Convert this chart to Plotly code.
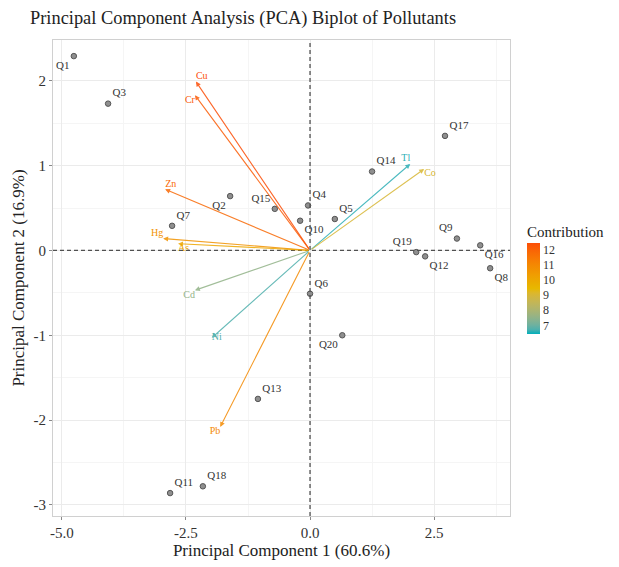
import numpy as np
import plotly.graph_objects as go

# ---------------- data ----------------
obs_names = ["Q1", "Q2", "Q3", "Q4", "Q5", "Q6", "Q7", "Q8", "Q9", "Q10",
             "Q11", "Q12", "Q13", "Q14", "Q15", "Q16", "Q17", "Q18", "Q19", "Q20"]
obs_pc1 = [-4.76, -1.61, -4.07, -0.04, 0.50, 0.00, -2.78, 3.63, 2.96, -0.20,
           -2.82, 2.32, -1.05, 1.25, -0.71, 3.43, 2.72, -2.16, 2.14, 0.65]
obs_pc2 = [2.29, 0.64, 1.73, 0.53, 0.37, -0.51, 0.29, -0.21, 0.14, 0.35,
           -2.86, -0.07, -1.75, 0.93, 0.49, 0.06, 1.35, -2.78, -0.02, -1.00]
obs_textpos = ["bottom left", "bottom left", "top right", "top right", "top right",
               "top right", "top right", "bottom right", "top left", "bottom right",
               "top right", "bottom right", "top right", "top right", "top left",
               "bottom right", "top right", "top right", "top left", "bottom left"]

var_names = ["Cu", "Cr", "Zn", "Hg", "As", "Cd", "Ni", "Pb", "Tl", "Co"]
var_pc1 = [-2.30, -2.32, -2.92, -2.96, -2.66, -2.32, -1.98, -1.81, 2.02, 2.30]
var_pc2 = [1.99, 1.83, 0.72, 0.14, 0.08, -0.47, -1.03, -2.08, 1.02, 0.96]
var_contrib = [12.4, 12.1, 11.8, 10.6, 10.0, 7.5, 6.7, 10.9, 6.5, 9.0]
var_textpos = ["top right", "bottom left", "top right", "top left", "bottom right",
               "bottom left", "middle right", "bottom left", "top left", "bottom right"]

cbar_ticks = [7, 8, 9, 10, 11, 12]
grad_cols = ["#00AFBB", "#E7B800", "#FC4E07"]
c_min, c_max = 6.4, 12.4

# ---------------- colour helpers (Lab interpolation like ggplot) ----------------
def hex2rgb(h):
    h = h.lstrip("#")
    return np.array([int(h[i:i + 2], 16) for i in (0, 2, 4)]) / 255.0

def rgb2lab(c):
    c = np.where(c > 0.04045, ((c + 0.055) / 1.055) ** 2.4, c / 12.92)
    M = np.array([[0.4124, 0.3576, 0.1805], [0.2126, 0.7152, 0.0722], [0.0193, 0.1192, 0.9505]])
    xyz = M @ c / np.array([0.95047, 1.0, 1.08883])
    f = np.where(xyz > 0.008856, np.cbrt(xyz), 7.787 * xyz + 16 / 116)
    return np.array([116 * f[1] - 16, 500 * (f[0] - f[1]), 200 * (f[1] - f[2])])

def lab2rgb(lab):
    fy = (lab[0] + 16) / 116
    fx = fy + lab[1] / 500
    fz = fy - lab[2] / 200
    f = np.array([fx, fy, fz])
    xyz = np.where(f ** 3 > 0.008856, f ** 3, (f - 16 / 116) / 7.787) * np.array([0.95047, 1.0, 1.08883])
    Mi = np.array([[3.2406, -1.5372, -0.4986], [-0.9689, 1.8758, 0.0415], [0.0557, -0.2040, 1.0570]])
    c = Mi @ xyz
    c = np.where(c > 0.0031308, 1.055 * np.clip(c, 0, None) ** (1 / 2.4) - 0.055, 12.92 * c)
    c = np.clip(c, 0, 1)
    return "rgb(%d,%d,%d)" % tuple(np.round(c * 255).astype(int))

labs = [rgb2lab(hex2rgb(h)) for h in grad_cols]

def color_at(t):
    t = min(max(t, 0), 1)
    seg = min(int(t * 2), 1)
    lt = t * 2 - seg
    return lab2rgb(labs[seg] * (1 - lt) + labs[seg + 1] * lt)

stops = np.linspace(0, 1, 21)
colorscale = [[float(s), color_at(s)] for s in stops]
var_colors = [color_at((v - c_min) / (c_max - c_min)) for v in var_contrib]

FONT = "Liberation Serif"

fig = go.Figure()

# reference lines
fig.add_hline(y=0, line=dict(color="#505050", width=1.3, dash="4px,3px"))
fig.add_vline(x=0, line=dict(color="#505050", width=1.3, dash="4px,3px"))

# arrows
for name, x, y, col in zip(var_names, var_pc1, var_pc2, var_colors):
    fig.add_annotation(x=x, y=y, ax=0, ay=0, xref="x", yref="y", axref="x", ayref="y",
                       showarrow=True, arrowhead=2, arrowsize=0.9, arrowwidth=1.1,
                       arrowcolor=col, text="", standoff=0, opacity=0.85)

# observations
fig.add_trace(go.Scatter(
    x=obs_pc1, y=obs_pc2, mode="markers+text", text=obs_names,
    textposition=obs_textpos,
    marker=dict(size=5.5, color="#8f8f8f", line=dict(color="#555555", width=1)),
    textfont=dict(family=FONT, size=11, color="#333333"),
    showlegend=False, hoverinfo="skip"))

# variable labels
fig.add_trace(go.Scatter(
    x=var_pc1, y=var_pc2, mode="text", text=var_names, textposition=var_textpos,
    textfont=dict(family=FONT, size=10, color=var_colors),
    showlegend=False, hoverinfo="skip"))

# colour bar
fig.add_trace(go.Scatter(
    x=[None], y=[None], mode="markers",
    marker=dict(color=[c_min, c_max], cmin=c_min, cmax=c_max, colorscale=colorscale,
                showscale=True,
                colorbar=dict(title=dict(text="Contribution", side="top",
                                         font=dict(family=FONT, size=15, color="#222")),
                              tickvals=cbar_ticks,
                              tickfont=dict(family=FONT, size=12, color="#333"),
                              thickness=13, len=112, lenmode="pixels",
                              x=1.037, xanchor="left", y=(520 - 224) / 480, yanchor="top",
                              xpad=0, ypad=0, outlinewidth=0, ticks="")),
    showlegend=False, hoverinfo="skip"))

fig.update_layout(
    width=619, height=567,
    margin=dict(l=53, r=109, t=40, b=47),
    paper_bgcolor="white", plot_bgcolor="white",
    font=dict(family=FONT, color="#222"),
    title=dict(text="Principal Component Analysis (PCA) Biplot of Pollutants",
               x=30 / 619, xref="container", xanchor="left",
               y=1 - 18 / 567, yref="container", yanchor="middle",
               font=dict(family=FONT, size=18.4, color="#222")),
)
fig.update_xaxes(range=[-5.18, 4.03], tickvals=[-5, -2.5, 0, 2.5],
                 ticktext=["-5.0", "-2.5", "0.0", "2.5"],
                 showgrid=True, gridcolor="#ebebeb", gridwidth=1,
                 minor=dict(showgrid=True, gridcolor="#f5f5f5", tickvals=[-3.75, -1.25, 1.25, 3.75]),
                 zeroline=False, showline=True, linecolor="#d0d0d0", mirror=True,
                 ticks="outside", ticklen=3, tickcolor="#888",
                 tickfont=dict(family=FONT, size=15, color="#333"),
                 title=dict(text="Principal Component 1 (60.6%)", standoff=2,
                            font=dict(family=FONT, size=17, color="#222")))
fig.update_yaxes(range=[-3.13, 2.48], tickvals=[-3, -2, -1, 0, 1, 2],
                 ticktext=["-3", "-2", "-1", "0", "1", "2"],
                 showgrid=True, gridcolor="#ebebeb", gridwidth=1,
                 minor=dict(showgrid=True, gridcolor="#f5f5f5", tickvals=[-2.5, -1.5, -0.5, 0.5, 1.5]),
                 zeroline=False, showline=True, linecolor="#d0d0d0", mirror=True,
                 ticks="outside", ticklen=3, tickcolor="#888",
                 tickfont=dict(family=FONT, size=15, color="#333"),
                 title=dict(text="Principal Component 2 (16.9%)", standoff=4,
                            font=dict(family=FONT, size=17, color="#222")))

fig.write_html("out.html")
